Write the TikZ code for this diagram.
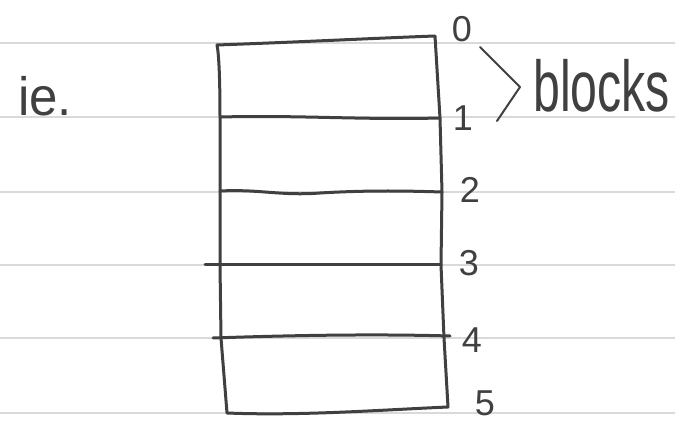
\documentclass[tikz,border=0pt]{standalone}
\usepackage{fontspec}
\setmainfont{Liberation Sans}
\definecolor{ink}{HTML}{404040}
\definecolor{rule}{HTML}{D9D9D9}
\tikzset{
  ruleline/.style={draw=rule, line width=1.8pt},
  pen/.style={draw=ink, line width=3pt, line join=round, line cap=round},
  thinpen/.style={draw=ink, line width=2pt, line join=round, line cap=round},
  digit/.style={text=ink, font=\fontsize{36}{36}\selectfont, inner sep=0pt},
  word/.style={text=ink, inner sep=0pt}
}
\begin{document}
\begin{tikzpicture}[x=1pt,y=-1pt]
\useasboundingbox (0,0) rectangle (675,422);
\fill[white] (0,0) rectangle (675,422);
% ruled paper lines
\foreach \yy in {43,117,192,265,338,413}
  \draw[ruleline] (0,\yy) -- (675,\yy);
% the stack of blocks
\draw[pen] (217,45) .. controls (300,42) and (380,38) .. (435,36)
  -- (440,118) -- (442,192) -- (441,265) -- (444,338) -- (448,407)
  .. controls (380,410) and (300,416) .. (227,413)
  -- (221,338) -- (220,265) -- (220,192) -- (220,118)
  .. controls (220,80) and (219,55) .. cycle;
\draw[pen] (220,117) .. controls (300,115) and (360,120) .. (440,118);
\draw[pen] (220,191) .. controls (260,189) and (280,196) .. (320,193) .. controls (370,190) and (410,191) .. (442,192);
\draw[pen] (205,265) -- (441,265);
\draw[pen] (213,338) .. controls (300,335) and (380,334) .. (450,336);
% labels
\node[digit] (n0) at (462,29) {0};
\node[digit] (n1) at (463,118) {1};
\node[digit] (n2) at (470,190) {2};
\node[digit] (n3) at (469,263) {3};
\node[digit] (n4) at (472,340) {4};
\node[digit] (n5) at (485,403) {5};
% brace ">"
\coordinate (bt) at (480,47);
\coordinate (bm) at (520,87);
\coordinate (bb) at (497,121);
\draw[thinpen] (bt) -- (bm) -- (bb);
\node[word, anchor=base west] (blocks) at (533,112)
  {\scalebox{0.67}[1]{\fontsize{72}{72}\selectfont blocks}};
\node[word, anchor=base west] (ie) at (18,116)
  {\scalebox{0.85}[0.9]{\fontsize{60}{60}\selectfont ie.}};
\end{tikzpicture}
\end{document}
